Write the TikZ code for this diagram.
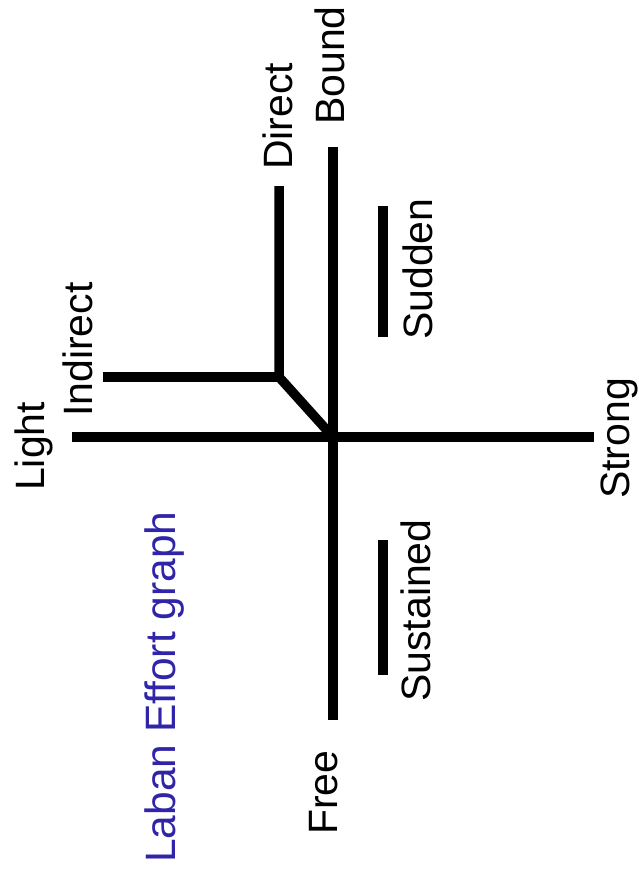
\documentclass[tikz,border=0pt]{standalone}
\usepackage{fontspec}
\setmainfont{Liberation Sans}
\definecolor{labblue}{RGB}{48,36,168}
\begin{document}
\begin{tikzpicture}[x=1pt,y=-1pt,
  axis/.style={line width=9.5pt,line cap=butt,line join=miter},
  lbl/.style={rotate=90,anchor=base west,inner sep=0pt,font=\fontsize{41}{49}\selectfont}]
\useasboundingbox (0,0) rectangle (639,871);
% coordinates
\coordinate (c) at (333,437);
\coordinate (top) at (333,147);
\coordinate (bot) at (333,720);
\coordinate (lt) at (72,437);
\coordinate (rt) at (594,437);
\coordinate (k) at (279,377);
\coordinate (dt) at (279,186);
\coordinate (il) at (103,377);
\coordinate (s1) at (383,206);
\coordinate (s2) at (383,337);
\coordinate (u1) at (383,540);
\coordinate (u2) at (383,675);
% lines
\draw[axis] (top) -- (bot);
\draw[axis] (lt) -- (rt);
\draw[axis] (dt) -- (k) -- (c);
\draw[axis] (il) -- (k);
\draw[axis] (s1) -- (s2);
\draw[axis] (u1) -- (u2);
% labels
\node[lbl] (light) at (44,491) {Light};
\node[lbl] (indirect) at (92,417) {Indirect};
\node[lbl] (direct) at (292,170) {Direct};
\node[lbl] (bound) at (344,125) {Bound};
\node[lbl] (sudden) at (432,340) {Sudden};
\node[lbl] (sustained) at (430,702) {Sustained};
\node[lbl] (strong) at (629,499) {Strong};
\node[lbl] (free) at (337,835) {Free};
\node[lbl,text=labblue,font=\fontsize{42.5}{50}\selectfont] (laban) at (175,863) {Laban Effort graph};
\end{tikzpicture}
\end{document}
